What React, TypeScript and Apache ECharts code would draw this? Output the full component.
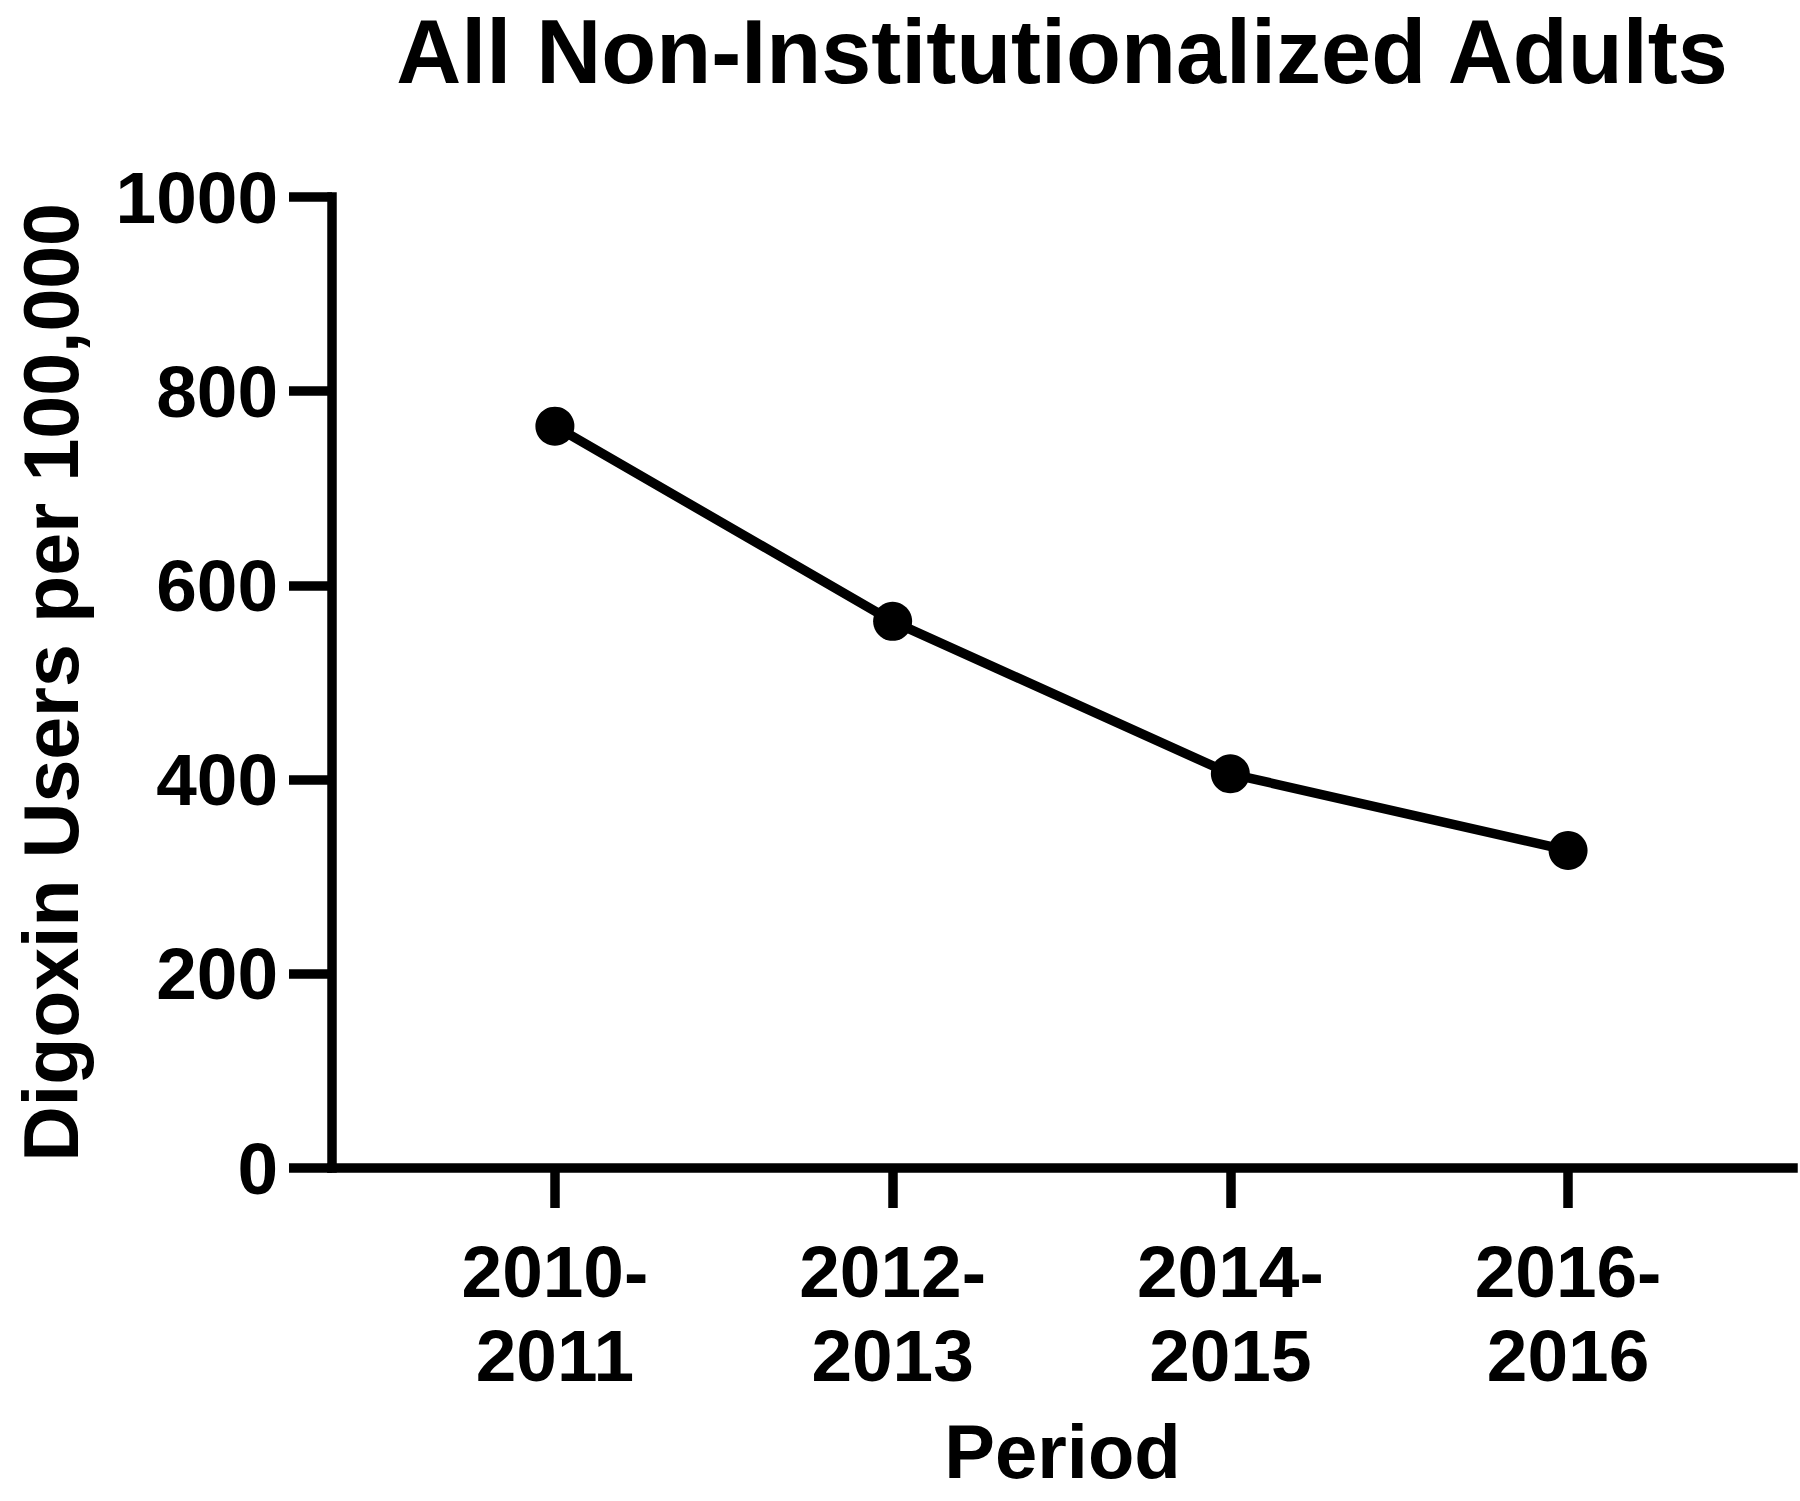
import React, { useEffect, useRef } from "react";
import * as echarts from "echarts";

const titleText = "All Non-Institutionalized Adults";
const xAxisName = "Period";
const yAxisName = "Digoxin Users per 100,000";
const periods = ["2010-\n2011", "2012-\n2013", "2014-\n2015", "2016-\n2016"];
const users = [764, 563, 406, 327];
const periodIndex = [0, 1, 2, 3];

const FONT = "'Liberation Sans', Arial, sans-serif";

export default function App() {
  const ref = useRef<HTMLDivElement>(null);
  useEffect(() => {
    if (!ref.current) return;
    const chart = echarts.init(ref.current, undefined, { renderer: "svg" });
    chart.setOption({
      animation: false,
      backgroundColor: "#ffffff",
      graphic: [
        {
          type: "text",
          x: 1062,
          y: 52,
          style: {
            text: titleText,
            fontFamily: FONT,
            fontWeight: "bold",
            fontSize: 90,
            fill: "#000",
            textAlign: "center",
            textVerticalAlign: "middle",
          },
        },
      ],
      grid: {
        left: 332,
        right: 7,
        top: 197,
        bottom: 333,
        containLabel: false,
        outerBoundsMode: "none",
      },
      xAxis: {
        type: "value",
        min: -0.66,
        max: 3.666,
        name: xAxisName,
        nameLocation: "middle",
        nameGap: 245,
        nameTextStyle: { fontFamily: FONT, fontWeight: "bold", fontSize: 76, color: "#000" },
        axisLine: { show: true, onZero: false, lineStyle: { color: "#000", width: 9.5, cap: "square" } },
        axisTick: { show: true, customValues: periodIndex, length: 40, lineStyle: { color: "#000", width: 9.5 } },
        axisLabel: {
          customValues: periodIndex,
          margin: 61,
          fontFamily: FONT,
          fontWeight: "bold",
          fontSize: 73,
          lineHeight: 84,
          color: "#000",
          formatter: (v: number) => periods[Math.round(v)] ?? "",
        },
        splitLine: { show: false },
      },
      yAxis: {
        type: "value",
        min: 0,
        max: 1000,
        interval: 200,
        name: yAxisName,
        nameLocation: "middle",
        nameGap: 243,
        nameTextStyle: { fontFamily: FONT, fontWeight: "bold", fontSize: 77, color: "#000" },
        axisLine: { show: true, onZero: false, lineStyle: { color: "#000", width: 9.5, cap: "square" } },
        axisTick: { show: true, length: 43, lineStyle: { color: "#000", width: 9.5 } },
        axisLabel: {
          margin: 54,
          fontFamily: FONT,
          fontWeight: "bold",
          fontSize: 73,
          color: "#000",
          formatter: (v: number) => String(v),
        },
        splitLine: { show: false },
      },
      series: [
        {
          type: "line",
          data: periodIndex.map((i) => [i, users[i]]),
          symbol: "circle",
          symbolSize: 39,
          lineStyle: { color: "#000", width: 9.5 },
          itemStyle: { color: "#000" },
          clip: false,
        },
      ],
    });
    return () => chart.dispose();
  }, []);
  return (
    <div
      ref={ref}
      style={{ position: "fixed", left: 0, top: 0, width: 1800, height: 1501, background: "#fff" }}
    />
  );
}
